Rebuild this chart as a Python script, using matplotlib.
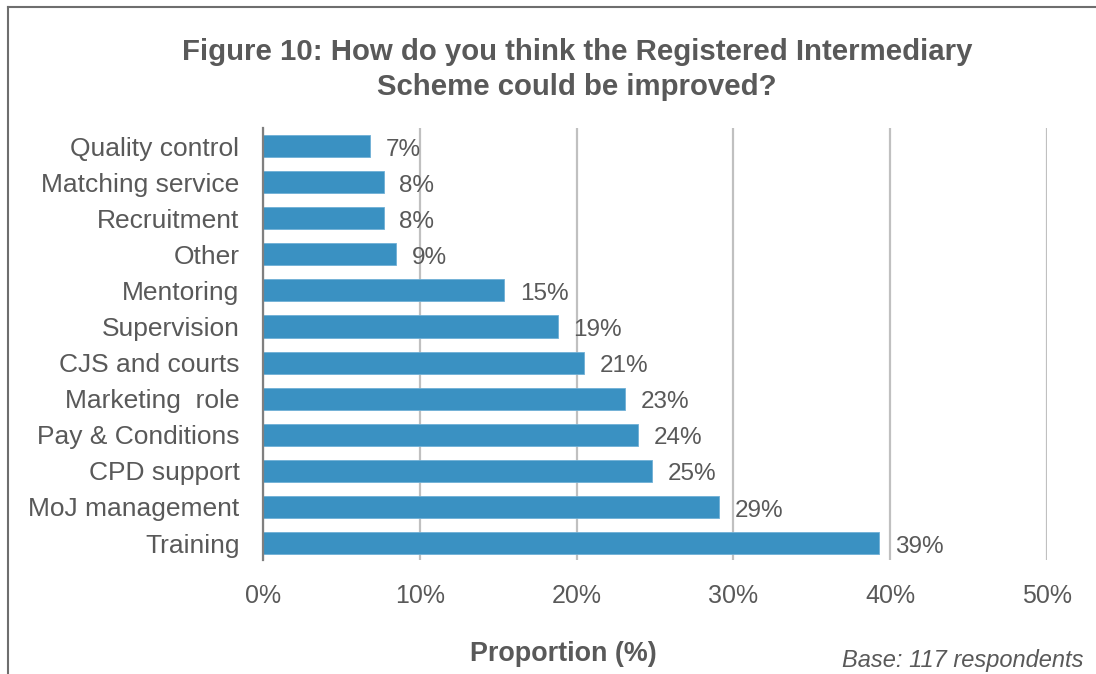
import matplotlib
matplotlib.use("Agg")
import matplotlib.pyplot as plt
from matplotlib.lines import Line2D

plt.rcParams['font.family'] = ['Liberation Sans', 'DejaVu Sans']

categories = ["Training", "MoJ management", "CPD support", "Pay & Conditions",
              "Marketing  role", "CJS and courts", "Supervision", "Mentoring",
              "Other", "Recruitment", "Matching service", "Quality control"]
values = [39.3, 29.1, 24.8, 23.9, 23.1, 20.5, 18.8, 15.4, 8.5, 7.7, 7.7, 6.8]
value_labels = ["39%", "29%", "25%", "24%", "23%", "21%", "19%", "15%",
                "9%", "8%", "8%", "7%"]
xticks = [0, 10, 20, 30, 40, 50]
xtick_labels = ["0%", "10%", "20%", "30%", "40%", "50%"]

TEXT = "#595959"
BAR = "#3A91C2"

fig = plt.figure(figsize=(10.96, 6.74), dpi=100)
ax = fig.add_axes([263/1096, 1-560/674, (1047-263)/1096, (560-128)/674])

y = list(range(len(categories)))
ax.barh(y, values, height=0.61, color=BAR, edgecolor="#6FB0D6", linewidth=0.6, zorder=3)
for yi, v, lab in zip(y, values, value_labels):
    ax.text(v + 1.0, yi - 0.1, lab, va="center", ha="left", fontsize=17.5, color=TEXT)

ax.set_xlim(0, 50)
ax.set_ylim(-0.47, 11.5)
ax.set_xticks(xticks)
ax.set_xticklabels(xtick_labels, fontsize=18, color=TEXT)
ax.set_yticks(y)
ax.set_yticklabels(categories, fontsize=19, color=TEXT)
ax.tick_params(axis='both', length=0)
ax.tick_params(axis='x', pad=17)
ax.tick_params(axis='y', pad=17)
ax.xaxis.grid(True, color="#C0C0C0", linewidth=1.6, zorder=0)
for s in ["top", "right", "bottom"]:
    ax.spines[s].set_visible(False)
ax.spines["left"].set_color("#7F7F7F")
ax.spines["left"].set_linewidth(1.6)
ax.spines["left"].set_zorder(4)

fig.text(577/1096, 1-52/674, "Figure 10: How do you think the Registered Intermediary",
         ha="center", va="center", fontsize=21.2, fontweight="bold", color=TEXT)
fig.text(577/1096, 1-87/674, "Scheme could be improved?",
         ha="center", va="center", fontsize=21.2, fontweight="bold", color=TEXT)

fig.text(563/1096, 1-654/674, "Proportion (%)", ha="center", va="center",
         fontsize=19.4, fontweight="bold", color=TEXT)
fig.text(1083/1096, 1-661/674, "Base: 117 respondents", ha="right", va="center",
         fontsize=17.0, style="italic", color=TEXT)

# outer frame (top and left edges visible)
fig.add_artist(Line2D([8/1096, 8/1096], [0, 1-7/674], transform=fig.transFigure,
                      color="#6E6E6E", linewidth=1.5))
fig.add_artist(Line2D([8/1096, 1], [1-7/674, 1-7/674], transform=fig.transFigure,
                      color="#6E6E6E", linewidth=1.5))

fig.savefig("out.png", dpi=100)
